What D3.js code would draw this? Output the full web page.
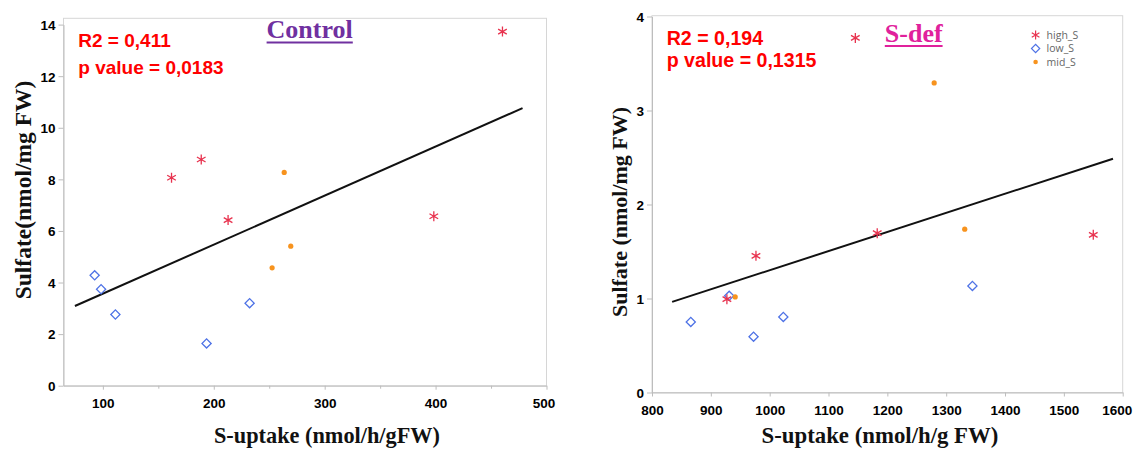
<!DOCTYPE html>
<html><head><meta charset="utf-8">
<script src="https://cdn.jsdelivr.net/npm/d3@7"></script>
<style>body{margin:0;background:#fff}svg{display:block}</style>
</head><body>
<svg id="c" width="1133" height="450"></svg>
<script>
// ---------- data ----------
const ctrlHighX = [460.3, 161.9, 188.7, 212.9, 398.4];
const ctrlHighY = [13.73, 8.06, 8.77, 6.42, 6.57];
const ctrlLowX  = [92.6, 98.4, 111.3, 193.5, 232.3];
const ctrlLowY  = [4.28, 3.74, 2.76, 1.64, 3.20];
const ctrlMidX  = [263.5, 269.4, 252.6];
const ctrlMidY  = [8.27, 5.41, 4.57];
const ctrlFitX  = [74.8, 478.4];
const ctrlFitY  = [3.09, 10.76];

const sdefHighX = [976.7, 1182.8, 1550, 927.3, 1145.6];
const sdefHighY = [1.454, 1.695, 1.677, 0.993, 3.772];
const sdefLowX  = [931.2, 865.9, 972.6, 1023.2, 1344.6];
const sdefLowY  = [1.028, 0.751, 0.594, 0.804, 1.134];
const sdefMidX  = [1331.5, 941.4, 1279.6];
const sdefMidY  = [1.738, 1.017, 3.293];
const sdefFitX  = [834.2, 1583.5];
const sdefFitY  = [0.964, 2.487];

const ctrlXTicks = [100, 200, 300, 400, 500];
const ctrlXMinor = [150, 250, 350, 450];
const ctrlYTicks = [0, 2, 4, 6, 8, 10, 12, 14];
const sdefXTicks = [800, 900, 1000, 1100, 1200, 1300, 1400, 1500, 1600];
const sdefYTicks = [0, 1, 2, 3, 4];

const legendLabels = ["high_S", "low_S", "mid_S"];

// ---------- drawing ----------
const svg = d3.select("#c");
const C_HIGH = "#e8334f", C_LOW = "#4f73e6", C_MID = "#f7931e";
const AX = "#bdbdbd";
const tickFont = "'Liberation Sans', Arial, sans-serif";

function panel(o) {
  const g = svg.append("g");
  const x = d3.scaleLinear().domain(o.xDom).range(o.xRange);
  const y = d3.scaleLinear().domain(o.yDom).range(o.yRange);
  const fmt = d3.format("d");
  // frame
  g.append("rect").attr("x", o.xRange[0]).attr("y", o.frameTop)
    .attr("width", o.xRange[1] - o.xRange[0]).attr("height", o.yRange[0] - o.frameTop)
    .attr("fill", "none").attr("stroke", "#d6d6d6").attr("stroke-width", 1);
  // axes
  const xa = g.append("g").attr("transform", `translate(0,${o.yRange[0]})`)
    .call(d3.axisBottom(x).tickValues(o.xTicks).tickFormat(fmt).tickSize(4).tickSizeOuter(0).tickPadding(9));
  if (o.xMinor) {
    g.append("g").attr("transform", `translate(0,${o.yRange[0]})`)
      .call(d3.axisBottom(x).tickValues(o.xMinor).tickSize(3).tickFormat(""))
      .select(".domain").remove();
  }
  const ya = g.append("g").attr("transform", `translate(${o.xRange[0]},0)`)
    .call(d3.axisLeft(y).tickValues(o.yTicks).tickFormat(fmt).tickSize(5).tickSizeOuter(0).tickPadding(3));
  g.selectAll(".domain").attr("stroke", AX);
  g.selectAll(".tick line").attr("stroke", AX);
  g.selectAll(".tick text").attr("font-family", tickFont).attr("font-weight", "bold")
    .attr("font-size", 13.5).attr("fill", "#000");
  ya.selectAll(".tick text").attr("dy", "0.36em");
  // keep the last x label inside the picture
  xa.selectAll(".tick text").filter(d => d === o.xTicks[o.xTicks.length - 1])
    .attr("dx", o.lastShift || 0);

  // fit line
  g.append("path").datum(d3.zip(o.fitX, o.fitY))
    .attr("d", d3.line().x(d => x(d[0])).y(d => y(d[1])))
    .attr("stroke", "#111").attr("stroke-width", 2).attr("fill", "none");

  // points
  const ast = d3.symbol().type(d3.symbolAsterisk).size(70);
  g.selectAll(null).data(d3.zip(o.lowX, o.lowY)).join("path")
    .attr("transform", d => `translate(${x(d[0])},${y(d[1])}) rotate(45)`)
    .attr("d", d3.symbol().type(d3.symbolSquare).size(42))
    .attr("fill", "none").attr("stroke", C_LOW).attr("stroke-width", 1.3);
  g.selectAll(null).data(d3.zip(o.midX, o.midY)).join("circle")
    .attr("cx", d => x(d[0])).attr("cy", d => y(d[1])).attr("r", 2.6).attr("fill", C_MID);
  g.selectAll(null).data(d3.zip(o.highX, o.highY)).join("path")
    .attr("transform", d => `translate(${x(d[0])},${y(d[1])})`)
    .attr("d", ast).attr("fill", "none").attr("stroke", C_HIGH).attr("stroke-width", 1.3);

  // stats text
  const st = g.append("g").attr("font-family", "'Liberation Sans', Arial, sans-serif")
    .attr("font-weight", "bold").attr("fill", "#ff0000").attr("font-size", o.statSize);
  st.append("text").attr("x", o.statX).attr("y", o.statY[0]).text(o.r2);
  st.append("text").attr("x", o.statX).attr("y", o.statY[1]).text(o.pv);

  // title
  const t = g.append("text").attr("x", o.titleX).attr("y", o.titleY)
    .attr("text-anchor", "middle").attr("font-family", "'Liberation Serif', 'Times New Roman', serif")
    .attr("font-weight", "bold").attr("font-size", 26).attr("fill", o.titleColor).text(o.title);
  const tw = t.node().getComputedTextLength();
  g.append("line").attr("x1", o.titleX - tw / 2).attr("x2", o.titleX + tw / 2)
    .attr("y1", o.titleY + 4.2).attr("y2", o.titleY + 4.2)
    .attr("stroke", o.titleColor).attr("stroke-width", 2);

  // axis labels
  const lf = "'Liberation Serif', 'Times New Roman', serif";
  g.append("text").attr("x", o.xLabX).attr("y", o.xLabY).attr("text-anchor", "middle")
    .attr("font-family", lf).attr("font-weight", "bold").attr("font-size", o.xLabSize)
    .attr("fill", "#111").text(o.xLab);
  g.append("text").attr("transform", `translate(${o.yLabX},${o.yLabY}) rotate(-90)`)
    .attr("text-anchor", "middle").attr("font-family", lf).attr("font-weight", "bold")
    .attr("font-size", o.yLabSize).attr("fill", "#111").text(o.yLab);
  return g;
}

panel({
  xDom: [64.5, 500], xRange: [63.5, 546.5],
  yDom: [0, 14], yRange: [385.7, 24.6], frameTop: 18.3,
  xTicks: ctrlXTicks, xMinor: ctrlXMinor, yTicks: ctrlYTicks, lastShift: -3,
  highX: ctrlHighX, highY: ctrlHighY, lowX: ctrlLowX, lowY: ctrlLowY,
  midX: ctrlMidX, midY: ctrlMidY, fitX: ctrlFitX, fitY: ctrlFitY,
  statX: 78.3, statY: [46.7, 74], statSize: 19,
  r2: "R2 = 0,411", pv: "p value = 0,0183",
  title: "Control", titleX: 309.7, titleY: 38.3, titleColor: "#7030a0",
  xLab: "S-uptake (nmol/h/gFW)", xLabX: 327, xLabY: 442.5, xLabSize: 22.3,
  yLab: "Sulfate(nmol/mg FW)", yLabX: 30.5, yLabY: 190, yLabSize: 23.5
});

panel({
  xDom: [800, 1600], xRange: [652, 1122.7],
  yDom: [0, 4], yRange: [392.5, 16.5], frameTop: 15.7,
  xTicks: sdefXTicks, xMinor: null, yTicks: sdefYTicks, lastShift: -6,
  highX: sdefHighX, highY: sdefHighY, lowX: sdefLowX, lowY: sdefLowY,
  midX: sdefMidX, midY: sdefMidY, fitX: sdefFitX, fitY: sdefFitY,
  statX: 666.7, statY: [45, 66.5], statSize: 19.6,
  r2: "R2 = 0,194", pv: "p value = 0,1315",
  title: "S-def", titleX: 913.7, titleY: 41.7, titleColor: "#e0219c",
  xLab: "S-uptake (nmol/h/g FW)", xLabX: 880, xLabY: 443.3, xLabSize: 22.8,
  yLab: "Sulfate (nmol/mg FW)", yLabX: 626.5, yLabY: 212, yLabSize: 22
});

// legend (S-def panel)
const lg = svg.append("g");
const ly = d3.scalePoint().domain(legendLabels).range([35, 62]);
const lx = 1035.6;
lg.append("path").attr("transform", `translate(${lx},${ly("high_S")})`)
  .attr("d", d3.symbol().type(d3.symbolAsterisk).size(55)).attr("fill", "none")
  .attr("stroke", C_HIGH).attr("stroke-width", 1.2);
lg.append("path").attr("transform", `translate(${lx},${ly("low_S")}) rotate(45)`)
  .attr("d", d3.symbol().type(d3.symbolSquare).size(34)).attr("fill", "none")
  .attr("stroke", C_LOW).attr("stroke-width", 1.2);
lg.append("circle").attr("cx", lx).attr("cy", ly("mid_S")).attr("r", 2.3).attr("fill", C_MID);
lg.selectAll(null).data(legendLabels).join("text")
  .attr("x", lx + 11).attr("y", d => ly(d) + 3.6)
  .attr("font-family", "'Open Sans', sans-serif").attr("font-size", 10.5).attr("fill", "#666")
  .text(d => d);
</script>
</body></html>
